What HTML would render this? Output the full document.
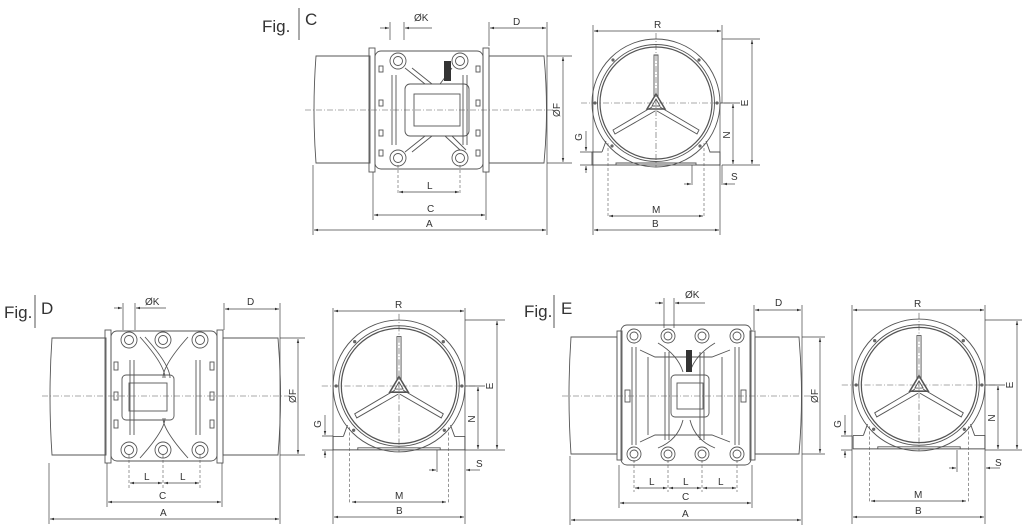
<!DOCTYPE html>
<html><head><meta charset="utf-8"><style>
html,body{margin:0;padding:0;background:#fff;}
svg{display:block}
text{font-family:"Liberation Sans",sans-serif;fill:#333;font-size:10px}
.f{font-size:17px}
</style></head><body>
<svg width="1024" height="532" viewBox="0 0 1024 532" xmlns="http://www.w3.org/2000/svg">
<defs>
<marker id="a" viewBox="0 0 10 10" refX="10" refY="5" markerWidth="6" markerHeight="6" orient="auto-start-reverse"><path d="M0,2L10,5L0,8z" fill="#333"/></marker>
<g id="front" fill="none" stroke="#555" stroke-width="0.9">
 <path d="M-64,49 L-64,62 L64,62 L64,49 L54,49 L50,38 M-54,49 L-50,38 M-54,49 L-64,49" />
 <path d="M-40,62 L-40,60 L40,60 L40,62"/>
 <circle r="64"/><circle r="58.5"/><circle r="56" stroke-width="1.2"/>
 <g fill="#666" stroke="none"><circle cx="-43" cy="-43" r="1.6"/><circle cx="43" cy="-43" r="1.6"/><circle cx="-61" cy="0" r="1.6"/><circle cx="61" cy="0" r="1.6"/><circle cx="-44" cy="43" r="1.6"/><circle cx="44" cy="43" r="1.6"/></g>
 <path d="M-2,-5 L-2,-48 L2,-48 L2,-5 M-4,4 L-43,27 L-41,31 L-1,8 M4,4 L43,27 L41,31 L1,8"/>
 <path d="M0,-9 L9,6 L-9,6z" stroke-width="1.5"/><path d="M0,-4 L4,3 L-4,3z"/>
 <path d="M-75,0 L75,0 M0,-70 L0,64" stroke-dasharray="6,2,1,2" stroke-width="0.6"/>
 <path d="M-48,40 L-48,115 M48,40 L48,115" stroke-dasharray="3,2" stroke-width="0.6"/>
</g>
</defs>

<!-- ===== Fig C ===== -->
<text x="262" y="32" class="f">Fig.</text><line x1="299" y1="8" x2="299" y2="40" stroke="#555"/><text x="305" y="25" class="f">C</text>
<g fill="none" stroke="#555" stroke-width="0.9">
 <path d="M316,56 L370,56 L370,163 L316,163 Q312,110 316,56z"/>
 <path d="M489,56 L544,56 Q549,110 544,163 L489,163z"/>
 <rect x="369" y="48" width="6" height="124"/><rect x="483" y="48" width="6" height="124"/>
 <rect x="375" y="51" width="108" height="118" rx="6"/>
 <circle cx="398" cy="61" r="8"/><circle cx="398" cy="61" r="4.5"/><circle cx="460" cy="61" r="8"/><circle cx="460" cy="61" r="4.5"/>
 <circle cx="398" cy="158" r="8"/><circle cx="398" cy="158" r="4.5"/><circle cx="460" cy="158" r="8"/><circle cx="460" cy="158" r="4.5"/>
 <rect x="405" y="84" width="64" height="52" rx="5"/><rect x="414" y="94" width="46" height="32"/>
 <path d="M392,75 L392,145 M396,75 L396,145 M463,75 L463,145 M467,75 L467,145"/>
 <path d="M405,68 L425,84 M412,68 L432,84 M440,84 L452,68 M405,152 L425,136 M412,152 L432,136 M445,136 L460,150 M452,136 L466,150"/>
 <rect x="379" y="66" width="4" height="6"/><rect x="379" y="100" width="4" height="6"/><rect x="379" y="130" width="4" height="6"/><rect x="379" y="150" width="4" height="6"/>
 <rect x="476" y="66" width="4" height="6"/><rect x="476" y="100" width="4" height="6"/><rect x="476" y="130" width="4" height="6"/><rect x="476" y="150" width="4" height="6"/>
 <path d="M305,110 L555,110" stroke-dasharray="6,2,1,2" stroke-width="0.6"/>
 <path d="M398,165 L398,195 M460,165 L460,195" stroke-dasharray="3,2" stroke-width="0.6"/>
</g>
<rect x="444" y="61" width="7" height="20" fill="#333"/>
<g stroke="#444" stroke-width="0.7" fill="none">
 <path d="M313,165 L313,235 M547,56 L547,235 M373,172 L373,220 M486,172 L486,220 M489,46 L489,22 M547,22 L547,56 M390,40 L390,22 M404,40 L404,22 M547,56 L572,56 M547,163 L572,163"/>
 <line x1="314" y1="230" x2="546" y2="230" marker-start="url(#a)" marker-end="url(#a)"/>
 <line x1="374" y1="215" x2="485" y2="215" marker-start="url(#a)" marker-end="url(#a)"/>
 <line x1="399" y1="192" x2="459" y2="192" marker-start="url(#a)" marker-end="url(#a)"/>
 <line x1="490" y1="28" x2="546" y2="28" marker-start="url(#a)" marker-end="url(#a)"/>
 <line x1="380" y1="28" x2="389" y2="28" marker-end="url(#a)"/><line x1="432" y1="28" x2="405" y2="28" marker-end="url(#a)"/>
 <line x1="563" y1="57" x2="563" y2="162" marker-start="url(#a)" marker-end="url(#a)"/>
</g>
<text x="426" y="227">A</text><text x="427" y="212">C</text><text x="427" y="189">L</text><text x="513" y="25">D</text><text x="414" y="21">ØK</text>
<text transform="translate(560,110) rotate(-90)" text-anchor="middle">ØF</text>

<use href="#front" transform="translate(656,103)"/>
<g stroke="#444" stroke-width="0.7" fill="none">
 <path d="M593,103 L593,235 M720,103 L720,235 M722,39 L760,39 M722,165 L760,165 M720,103 L740,103 M580,152 L592,152 M580,165 L592,165 M692,165 L692,185 M722,165 L722,185 M593,25 L593,103 M722,25 L722,103"/>
 <line x1="594" y1="31" x2="721" y2="31" marker-start="url(#a)" marker-end="url(#a)"/>
 <line x1="752" y1="40" x2="752" y2="164" marker-start="url(#a)" marker-end="url(#a)"/>
 <line x1="733" y1="104" x2="733" y2="164" marker-start="url(#a)" marker-end="url(#a)"/>
 <line x1="594" y1="230" x2="719" y2="230" marker-start="url(#a)" marker-end="url(#a)"/>
 <line x1="609" y1="216" x2="703" y2="216" marker-start="url(#a)" marker-end="url(#a)"/>
 <line x1="586" y1="131" x2="586" y2="151" marker-end="url(#a)"/><line x1="586" y1="173" x2="586" y2="166" marker-end="url(#a)"/>
 <line x1="684" y1="184" x2="691" y2="184" marker-end="url(#a)"/><line x1="735" y1="184" x2="723" y2="184" marker-end="url(#a)"/>
</g>
<text x="654" y="28">R</text><text x="652" y="227">B</text><text x="652" y="213">M</text><text x="731" y="180">S</text>
<text transform="translate(748,103) rotate(-90)" text-anchor="middle">E</text>
<text transform="translate(730,135) rotate(-90)" text-anchor="middle">N</text>
<text transform="translate(582,137) rotate(-90)" text-anchor="middle">G</text>

<!-- ===== Fig D ===== -->
<text x="4" y="318" class="f">Fig.</text><line x1="35" y1="295" x2="35" y2="328" stroke="#555"/><text x="41" y="314" class="f">D</text>
<g fill="none" stroke="#555" stroke-width="0.9">
 <path d="M52,338 L106,338 L106,455 L52,455 Q48,396 52,338z"/>
 <path d="M223,338 L278,338 Q283,396 278,455 L223,455z"/>
 <rect x="105" y="330" width="6" height="133"/><rect x="217" y="330" width="6" height="133"/>
 <rect x="111" y="331" width="106" height="130" rx="6"/>
 <circle cx="129" cy="340" r="8"/><circle cx="129" cy="340" r="4.5"/><circle cx="163" cy="340" r="8"/><circle cx="163" cy="340" r="4.5"/><circle cx="200" cy="340" r="8"/><circle cx="200" cy="340" r="4.5"/>
 <circle cx="129" cy="450" r="8"/><circle cx="129" cy="450" r="4.5"/><circle cx="163" cy="450" r="8"/><circle cx="163" cy="450" r="4.5"/><circle cx="200" cy="450" r="8"/><circle cx="200" cy="450" r="4.5"/>
 <rect x="122" y="375" width="52" height="45" rx="4"/><rect x="129" y="383" width="38" height="28"/>
 <path d="M130,360 L130,435 M134,360 L134,435 M196,360 L196,435 M200,360 L200,435"/>
 <path d="M140,337 Q165,365 165,378 M145,337 Q170,365 170,378 M188,337 Q163,365 163,378 M140,458 Q165,430 165,418 M188,458 Q163,430 163,418"/>
 <rect x="114" y="362" width="4" height="8"/><rect x="114" y="392" width="4" height="8"/><rect x="114" y="420" width="4" height="8"/>
 <rect x="210" y="362" width="4" height="8"/><rect x="210" y="392" width="4" height="8"/><rect x="210" y="420" width="4" height="8"/>
 <path d="M42,396 L290,396" stroke-dasharray="6,2,1,2" stroke-width="0.6"/>
 <path d="M129,455 L129,488 M163,455 L163,488 M200,455 L200,488" stroke-dasharray="3,2" stroke-width="0.6"/>
</g>
<g stroke="#444" stroke-width="0.7" fill="none">
 <path d="M49,463 L49,524 M280,338 L280,524 M107,463 L107,507 M222,463 L222,507 M224,330 L224,303 M280,303 L280,338 M123,330 L123,303 M135,330 L135,303 M280,338 L305,338 M280,455 L305,455"/>
 <line x1="50" y1="519" x2="279" y2="519" marker-start="url(#a)" marker-end="url(#a)"/>
 <line x1="108" y1="502" x2="221" y2="502" marker-start="url(#a)" marker-end="url(#a)"/>
 <line x1="130" y1="483" x2="162" y2="483" marker-start="url(#a)" marker-end="url(#a)"/>
 <line x1="164" y1="483" x2="199" y2="483" marker-start="url(#a)" marker-end="url(#a)"/>
 <line x1="225" y1="309" x2="279" y2="309" marker-start="url(#a)" marker-end="url(#a)"/>
 <line x1="114" y1="308" x2="122" y2="308" marker-end="url(#a)"/><line x1="166" y1="308" x2="136" y2="308" marker-end="url(#a)"/>
 <line x1="298" y1="339" x2="298" y2="454" marker-start="url(#a)" marker-end="url(#a)"/>
</g>
<text x="160" y="516">A</text><text x="159" y="499">C</text><text x="144" y="480">L</text><text x="180" y="480">L</text><text x="247" y="305">D</text><text x="145" y="305">ØK</text>
<text transform="translate(296,396) rotate(-90)" text-anchor="middle">ØF</text>

<use href="#front" transform="translate(399,386) scale(1.03)"/>
<g stroke="#444" stroke-width="0.7" fill="none">
 <path d="M333,386 L333,524 M465,386 L465,524 M465,320 L505,320 M465,450 L505,450 M465,386 L485,386 M322,436 L333,436 M322,450 L333,450 M437,450 L437,472 M465,450 L465,472 M333,308 L333,386 M465,308 L465,386"/>
 <line x1="334" y1="311" x2="464" y2="311" marker-start="url(#a)" marker-end="url(#a)"/>
 <line x1="497" y1="321" x2="497" y2="449" marker-start="url(#a)" marker-end="url(#a)"/>
 <line x1="478" y1="387" x2="478" y2="449" marker-start="url(#a)" marker-end="url(#a)"/>
 <line x1="334" y1="517" x2="464" y2="517" marker-start="url(#a)" marker-end="url(#a)"/>
 <line x1="352" y1="502" x2="446" y2="502" marker-start="url(#a)" marker-end="url(#a)"/>
 <line x1="325" y1="415" x2="325" y2="435" marker-end="url(#a)"/><line x1="325" y1="458" x2="325" y2="451" marker-end="url(#a)"/>
 <line x1="429" y1="470" x2="436" y2="470" marker-end="url(#a)"/><line x1="480" y1="470" x2="466" y2="470" marker-end="url(#a)"/>
</g>
<text x="395" y="308">R</text><text x="396" y="514">B</text><text x="395" y="499">M</text><text x="476" y="467">S</text>
<text transform="translate(493,386) rotate(-90)" text-anchor="middle">E</text>
<text transform="translate(475,419) rotate(-90)" text-anchor="middle">N</text>
<text transform="translate(321,424) rotate(-90)" text-anchor="middle">G</text>

<!-- ===== Fig E ===== -->
<text x="524" y="317" class="f">Fig.</text><line x1="554" y1="295" x2="554" y2="328" stroke="#555"/><text x="561" y="314" class="f">E</text>
<g fill="none" stroke="#555" stroke-width="0.9">
 <path d="M571,337 L617,337 L617,454 L571,454 Q567,396 571,337z"/>
 <path d="M755,337 L799,337 Q804,396 799,454 L755,454z"/>
 <rect x="617" y="331" width="5" height="129"/><rect x="750" y="331" width="5" height="129"/>
 <rect x="621" y="325" width="130" height="140" rx="6"/>
 <circle cx="634" cy="336" r="7"/><circle cx="634" cy="336" r="4"/><circle cx="668" cy="336" r="7"/><circle cx="668" cy="336" r="4"/><circle cx="702" cy="336" r="7"/><circle cx="702" cy="336" r="4"/><circle cx="737" cy="336" r="7"/><circle cx="737" cy="336" r="4"/>
 <circle cx="634" cy="454" r="7"/><circle cx="634" cy="454" r="4"/><circle cx="668" cy="454" r="7"/><circle cx="668" cy="454" r="4"/><circle cx="702" cy="454" r="7"/><circle cx="702" cy="454" r="4"/><circle cx="737" cy="454" r="7"/><circle cx="737" cy="454" r="4"/>
 <path d="M632,347 L632,445 M636,347 L636,445 M735,347 L735,445 M739,347 L739,445 M665,352 L665,440 M669,352 L669,440 M700,352 L700,440 M704,352 L704,440"/>
 <path d="M648,357 L648,435 M722,357 L722,435 M640,350 L655,357 L712,357 L730,350 M640,442 L655,435 L712,435 L730,442"/>
 <rect x="671" y="375" width="38" height="42" rx="4"/><rect x="677" y="383" width="26" height="26"/>
 <path d="M658,343 Q678,355 683,372 M690,372 Q695,355 715,343 M658,448 Q678,440 683,420 M690,420 Q695,440 715,448"/>
 <rect x="625" y="390" width="5" height="12"/><rect x="741" y="390" width="5" height="12"/>
 <path d="M562,396 L810,396" stroke-dasharray="6,2,1,2" stroke-width="0.6"/>
 <path d="M634,460 L634,492 M668,460 L668,492 M702,460 L702,492 M737,460 L737,492" stroke-dasharray="3,2" stroke-width="0.6"/>
</g>
<rect x="686" y="350" width="6" height="22" fill="#333"/>
<g stroke="#444" stroke-width="0.7" fill="none">
 <path d="M570,456 L570,525 M802,337 L802,525 M619,465 L619,508 M752,465 L752,508 M754,330 L754,305 M802,305 L802,337 M664,328 L664,298 M674,328 L674,298 M802,337 L825,337 M802,454 L825,454"/>
 <line x1="571" y1="520" x2="801" y2="520" marker-start="url(#a)" marker-end="url(#a)"/>
 <line x1="620" y1="503" x2="751" y2="503" marker-start="url(#a)" marker-end="url(#a)"/>
 <line x1="635" y1="488" x2="667" y2="488" marker-start="url(#a)" marker-end="url(#a)"/>
 <line x1="669" y1="488" x2="701" y2="488" marker-start="url(#a)" marker-end="url(#a)"/>
 <line x1="703" y1="488" x2="736" y2="488" marker-start="url(#a)" marker-end="url(#a)"/>
 <line x1="755" y1="310" x2="801" y2="310" marker-start="url(#a)" marker-end="url(#a)"/>
 <line x1="655" y1="303" x2="663" y2="303" marker-end="url(#a)"/><line x1="705" y1="303" x2="675" y2="303" marker-end="url(#a)"/>
 <line x1="820" y1="338" x2="820" y2="453" marker-start="url(#a)" marker-end="url(#a)"/>
</g>
<text x="682" y="517">A</text><text x="682" y="500">C</text><text x="649" y="485">L</text><text x="683" y="485">L</text><text x="718" y="485">L</text><text x="775" y="306">D</text><text x="685" y="298">ØK</text>
<text transform="translate(818,396) rotate(-90)" text-anchor="middle">ØF</text>

<use href="#front" transform="translate(919,385) scale(1.03)"/>
<g stroke="#444" stroke-width="0.7" fill="none">
 <path d="M852,385 L852,524 M985,385 L985,524 M985,320 L1022,320 M985,450 L1022,450 M985,385 L1005,385 M841,436 L852,436 M841,450 L852,450 M957,450 L957,472 M985,450 L985,472 M852,305 L852,385 M985,305 L985,385"/>
 <line x1="853" y1="310" x2="984" y2="310" marker-start="url(#a)" marker-end="url(#a)"/>
 <line x1="1017" y1="321" x2="1017" y2="449" marker-start="url(#a)" marker-end="url(#a)"/>
 <line x1="998" y1="386" x2="998" y2="449" marker-start="url(#a)" marker-end="url(#a)"/>
 <line x1="853" y1="517" x2="984" y2="517" marker-start="url(#a)" marker-end="url(#a)"/>
 <line x1="871" y1="501" x2="966" y2="501" marker-start="url(#a)" marker-end="url(#a)"/>
 <line x1="845" y1="415" x2="845" y2="435" marker-end="url(#a)"/><line x1="845" y1="458" x2="845" y2="451" marker-end="url(#a)"/>
 <line x1="949" y1="468" x2="956" y2="468" marker-end="url(#a)"/><line x1="1000" y1="468" x2="986" y2="468" marker-end="url(#a)"/>
</g>
<text x="914" y="307">R</text><text x="915" y="514">B</text><text x="914" y="498">M</text><text x="995" y="466">S</text>
<text transform="translate(1013,385) rotate(-90)" text-anchor="middle">E</text>
<text transform="translate(995,418) rotate(-90)" text-anchor="middle">N</text>
<text transform="translate(841,424) rotate(-90)" text-anchor="middle">G</text>
</svg>
</body></html>
